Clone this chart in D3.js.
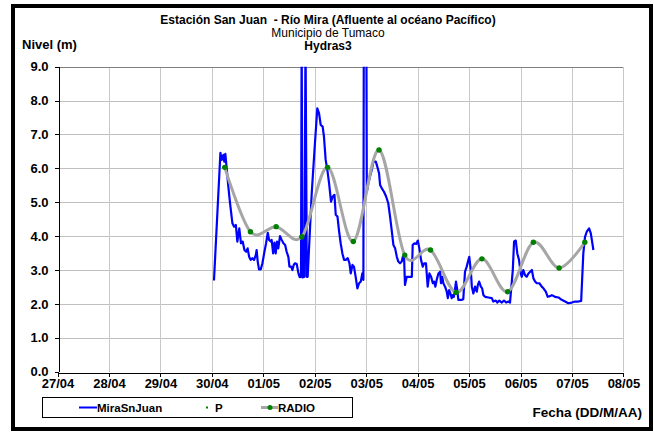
<!DOCTYPE html>
<html>
<head>
<meta charset="utf-8">
<script src="https://cdn.jsdelivr.net/npm/d3@7"></script>
<style>
  html, body { margin: 0; padding: 0; background: #fff; }
  svg { display: block; font-family: "Liberation Sans", Arial, sans-serif; }
</style>
</head>
<body>
<svg id="chart" width="654" height="432"></svg>
<script>
// Axis ticks
const dayLabels = ["27/04","28/04","29/04","30/04","01/05","02/05","03/05","04/05","05/05","06/05","07/05","08/05"];
const levelTicks = [0,1,2,3,4,5,6,7,8,9];

// Hours from 27/04 00:00 to 30/04 00:00 (start of the records)
const recordStart = 72;

// MiraSnJuan: level (m), hours counted from 30/04 00:00
const miraHours = [
  1,4,4.6,5.4,5.8,6.3,7.0,7.7,8.5,9.6,10.4,11.2,11.9,12.8,13.6,14.4,15.2,16.0,16.7,17.4,
  18.1,18.9,19.7,20.5,20.9,21.4,22.0,22.8,23.6,24.4,25.3,26.1,26.7,27.5,27.9,28.6,29.2,29.8,30.4,31.0,
  31.8,32.6,33.4,34.2,34.9,35.7,36.2,37.0,37.6,38.2,38.8,39.6,40.4,41.0,41.6,41.9,42.3,43.2,43.7,44.3,
  44.7,46.6,48.1,49.2,50.0,50.8,51.7,52.3,53.1,53.9,54.7,55.6,56.4,57.2,57.8,58.6,59.3,60.1,60.9,61.7,
  62.5,63.4,64.2,64.8,65.6,66.3,67.1,67.9,68.7,69.5,70.2,70.7,70.9,72.1,72.3,73.0,73.8,74.6,75.4,76.5,77.2,
  78.0,78.5,79.3,80.3,81.3,82.3,83.1,83.9,84.7,85.5,86.3,87.0,87.8,88.6,89.1,89.7,90.1,90.9,91.7,93.3,
  93.7,94.5,95.3,96.1,96.8,97.6,98.4,99.1,99.9,100.7,101.5,102.3,103.1,103.7,104.3,104.9,105.7,106.5,106.9,107.5,
  108.0,108.8,109.6,110.1,110.7,111.3,111.9,112.4,112.9,113.5,113.9,114.5,115.0,115.8,116.6,117.3,118.1,118.9,119.7,120.1,
  120.8,121.3,122.0,122.8,123.6,124.1,124.7,125.5,126.1,126.7,127.5,129.0,130.6,131.3,132.5,133.2,134.1,135.3,136.3,137.3,
  138.3,139.1,140.4,141.0,141.8,142.5,143.3,144.1,144.6,145.3,146.1,146.9,147.7,148.5,149.3,150.0,150.8,151.6,152.8,153.9,
  154.7,155.8,156.7,157.8,158.6,160.1,161.7,163.2,164.8,166.3,167.9,169.5,171.0,172.3,173.3,174.1,174.9,176.0,176.8,177.4,
  178.0
];
const miraLevel = [
  2.69,6.46,6.25,6.40,6.20,6.43,5.95,5.46,4.97,4.38,4.28,4.33,3.84,4.23,3.79,3.84,3.59,3.54,3.64,3.39,
  3.30,3.35,3.30,3.44,3.59,3.25,3.02,3.02,3.20,3.49,3.79,4.10,3.89,3.84,3.89,3.49,3.81,3.49,3.84,3.64,
  4.00,3.89,3.79,3.74,3.54,3.39,3.10,3.10,3.00,3.15,3.20,3.18,2.90,2.79,2.80,10,2.78,2.80,10,2.80,
  2.80,5.27,6.74,7.77,7.63,7.28,7.23,6.94,6.25,5.95,5.56,5.02,5.17,5.22,4.63,4.58,4.18,3.79,3.49,3.30,
  3.30,3.35,3.20,2.90,3.15,3.10,2.80,2.46,2.61,2.66,2.90,2.71,10,10,5.30,5.56,5.76,5.95,6.20,6.20,6.05,
  5.86,5.51,5.41,5.31,5.17,4.97,4.60,4.18,3.74,3.64,3.39,3.25,3.20,3.25,3.39,3.35,2.56,2.80,2.80,2.80,
  3.74,3.79,3.77,3.87,3.64,3.30,3.10,3.20,3.20,2.51,2.90,2.80,2.61,2.66,2.51,2.71,2.90,2.95,2.61,2.80,
  2.61,2.51,2.36,2.17,2.41,2.31,2.17,2.26,2.21,2.46,2.66,2.41,2.12,2.12,2.12,2.14,2.95,3.10,3.30,3.39,
  3.00,2.51,2.31,2.51,2.36,2.56,2.66,2.51,2.46,2.26,2.21,2.19,2.17,2.07,2.10,2.04,2.10,2.04,2.10,2.04,
  2.07,2.04,3.00,3.84,3.87,3.49,3.30,2.90,2.80,3.00,2.85,2.80,2.90,2.95,3.00,2.76,2.66,2.61,2.61,2.51,
  2.46,2.36,2.21,2.23,2.26,2.21,2.19,2.12,2.07,2.02,2.04,2.07,2.07,2.09,3.49,3.98,4.13,4.23,4.08,3.84,
  3.59
];

// RADIO and P: readings every 12 h, hours counted from 30/04 00:00
const radioHours = [6,18,30,42,54,66,78,90,102,114,126,138,150,162,174];
const radioLevel = [6.03,4.13,4.28,3.98,6.03,3.84,6.54,3.44,3.59,2.34,3.33,2.36,3.82,3.06,3.82];
const pHours = radioHours;
const pLevel = radioLevel;

const svg = d3.select("#chart");
const plot = { left: 57.5, right: 623.4, top: 66.7, bottom: 371.7 };

// Outer frame
svg.append("rect")
  .attr("x", 13).attr("y", 6).attr("width", 638).attr("height", 423)
  .attr("fill", "#fff").attr("stroke", "#000").attr("stroke-width", 4);

const x = d3.scaleLinear().domain([0, 264]).range([plot.left, plot.right]);
const y = d3.scaleLinear().domain([0, 9]).range([plot.bottom, plot.top]);

// Grid
const grid = svg.append("g").attr("shape-rendering", "crispEdges");
grid.selectAll(".hg").data(levelTicks.slice(1, -1)).join("line")
  .attr("x1", plot.left).attr("x2", plot.right)
  .attr("y1", d => Math.round(y(d)) + 0.5).attr("y2", d => Math.round(y(d)) + 0.5)
  .attr("stroke", "#c0c0c0").attr("stroke-width", 1);
grid.selectAll(".vg").data(d3.range(1, dayLabels.length)).join("line")
  .attr("x1", d => Math.round(x(d * 24)) + 0.5).attr("x2", d => Math.round(x(d * 24)) + 0.5)
  .attr("y1", plot.top).attr("y2", plot.bottom)
  .attr("stroke", "#c8c8c8").attr("stroke-width", 1);
grid.append("line")
  .attr("x1", plot.left).attr("x2", plot.right)
  .attr("y1", Math.round(plot.top) + 0.5).attr("y2", Math.round(plot.top) + 0.5)
  .attr("stroke", "#808080");

// Axes
const xAxis = d3.axisBottom(x)
  .tickValues(d3.range(0, dayLabels.length).map(d => d * 24))
  .tickFormat((d, i) => dayLabels[i])
  .tickSizeOuter(0).tickSizeInner(4).tickPadding(2);
const gx = svg.append("g")
  .attr("transform", `translate(0,${Math.round(plot.bottom) + 0.5})`)
  .call(xAxis);

const yAxis = d3.axisLeft(y)
  .tickValues(levelTicks)
  .tickFormat(d3.format(".1f"))
  .tickSizeOuter(0).tickSizeInner(4).tickPadding(6);
const gy = svg.append("g")
  .attr("transform", `translate(${Math.round(plot.left) + 0.5},0)`)
  .call(yAxis);

[gx, gy].forEach(g => {
  g.select(".domain").attr("stroke", "#000").attr("shape-rendering", "crispEdges");
  g.selectAll(".tick line").attr("stroke", "#000").attr("shape-rendering", "crispEdges");
  g.selectAll(".tick text")
    .attr("font-family", "'Liberation Sans', Arial, sans-serif")
    .attr("font-size", 13).attr("font-weight", "bold").attr("fill", "#000");
});

// Series, clipped to the plot area
svg.append("clipPath").attr("id", "plotClip")
  .append("rect")
  .attr("x", plot.left).attr("y", plot.top)
  .attr("width", plot.right - plot.left).attr("height", plot.bottom - plot.top);

const series = svg.append("g").attr("clip-path", "url(#plotClip)");

const mira = miraHours.map((h, i) => [recordStart + h, miraLevel[i]]);
series.append("path")
  .datum(mira)
  .attr("fill", "none").attr("stroke", "#0000ff").attr("stroke-width", 2.2)
  .attr("stroke-linejoin", "round")
  .attr("d", d3.line().x(d => x(d[0])).y(d => y(d[1])));

const radio = radioHours.map((h, i) => [recordStart + h, radioLevel[i]]);
series.append("path")
  .datum(radio)
  .attr("fill", "none").attr("stroke", "#a6a6a6").attr("stroke-width", 3)
  .attr("d", d3.line().curve(d3.curveCardinal.tension(0)).x(d => x(d[0])).y(d => y(d[1])));

series.selectAll(".radioPt").data(radio).join("circle")
  .attr("cx", d => x(d[0])).attr("cy", d => y(d[1])).attr("r", 2.7)
  .attr("fill", "#008000");

const pts = pHours.map((h, i) => [recordStart + h, pLevel[i]]);
series.selectAll(".pPt").data(pts).join("rect")
  .attr("x", d => x(d[0]) - 1).attr("y", d => y(d[1]) - 1)
  .attr("width", 2).attr("height", 2).attr("fill", "#008000");

// Titles
const titles = [
  { text: "Estación San Juan  - Río Mira (Afluente al océano Pacífico)", y: 24, weight: "bold" },
  { text: "Municipio de Tumaco", y: 37, weight: "normal" },
  { text: "Hydras3", y: 50, weight: "bold" }
];
svg.selectAll(".title").data(titles).join("text")
  .attr("x", 328).attr("y", d => d.y)
  .attr("text-anchor", "middle").attr("font-size", 12)
  .attr("font-weight", d => d.weight)
  .style("white-space", "pre")
  .text(d => d.text);

svg.append("text").attr("x", 22).attr("y", 49)
  .attr("font-size", 13).attr("font-weight", "bold").text("Nivel (m)");

svg.append("text").attr("x", 642).attr("y", 417).attr("text-anchor", "end")
  .attr("font-size", 13.5).attr("font-weight", "bold").text("Fecha (DD/M/AA)");

// Legend
const legend = svg.append("g");
legend.append("rect")
  .attr("x", 42.5).attr("y", 397.5).attr("width", 310).attr("height", 20)
  .attr("fill", "#fff").attr("stroke", "#000").attr("stroke-width", 1);
const ly = 407.5;
legend.append("line").attr("x1", 79).attr("x2", 97).attr("y1", ly).attr("y2", ly)
  .attr("stroke", "#0000ff").attr("stroke-width", 2);
legend.append("rect").attr("x", 206).attr("y", ly - 1).attr("width", 2).attr("height", 2)
  .attr("fill", "#008000");
legend.append("line").attr("x1", 261).attr("x2", 278).attr("y1", ly).attr("y2", ly)
  .attr("stroke", "#a6a6a6").attr("stroke-width", 3);
legend.append("circle").attr("cx", 270).attr("cy", ly).attr("r", 2.5).attr("fill", "#008000");
const legendItems = [
  { text: "MiraSnJuan", x: 97 },
  { text: "P", x: 215 },
  { text: "RADIO", x: 278 }
];
legend.selectAll(".lt").data(legendItems).join("text")
  .attr("x", d => d.x).attr("y", ly + 4)
  .attr("font-size", 11.5).attr("font-weight", "bold").text(d => d.text);
</script>
</body>
</html>
